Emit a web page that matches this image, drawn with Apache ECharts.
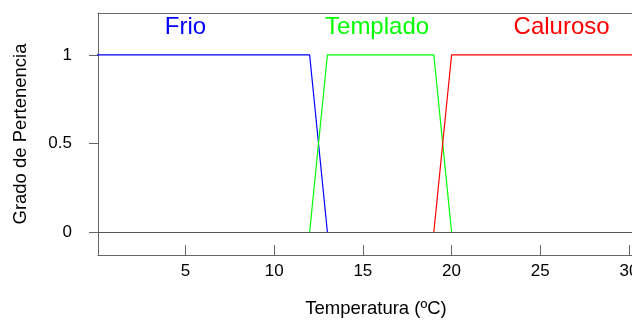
<!DOCTYPE html>
<html>
<head>
<meta charset="utf-8">
<script src="https://cdn.jsdelivr.net/npm/echarts@6/dist/echarts.min.js"></script>
<style>
  html, body { margin: 0; padding: 0; background: #ffffff; }
  #chart { width: 632px; height: 320px; }
</style>
</head>
<body>
<div id="chart"></div>
<script>
// membership functions, [temperature, degree]
const frioPoints = [[0, 1], [12, 1], [13, 0]];
const templadoPoints = [[12, 0], [13, 1], [19, 1], [20, 0]];
const calurosoPoints = [[19, 0], [20, 1], [32, 1]];

const xTicks = [5, 10, 15, 20, 25, 30];
const yTicks = [0, 0.5, 1];

const setNames = ['Frio', 'Templado', 'Caluroso'];
const setLabelX = [5, 15.8, 26.2];
const setLabelY = [1.155, 1.155, 1.155];
const setColors = ['#0000ff', '#00ff00', '#ff0000'];

const AXIS_COLOR = '#666666';
const FONT = 'Liberation Sans, Arial, sans-serif';

const chart = echarts.init(document.getElementById('chart'));

const lineSeries = (name, data, color) => ({
  name: name,
  type: 'line',
  data: data,
  symbol: 'none',
  lineStyle: { color: color, width: 1.2 },
  z: 3,
});

const option = {
  animation: false,
  grid: {
    left: 98,
    top: 13,
    bottom: 65,
    right: 0,
    outerBoundsMode: 'none',
    containLabel: false,
  },
  xAxis: [
    {
      type: 'value',
      min: 0.07,
      max: 30.17,
      name: 'Temperatura (ºC)',
      nameLocation: 'middle',
      nameGap: 44,
      nameTextStyle: {
        color: '#000',
        fontSize: 18.5,
        fontFamily: FONT,
        padding: [0, 0, 0, 22],
      },
      axisLine: { show: true, onZero: false, lineStyle: { color: AXIS_COLOR } },
      axisTick: {
        show: true,
        inside: true,
        length: 10,
        customValues: xTicks,
        lineStyle: { color: AXIS_COLOR },
      },
      axisLabel: {
        customValues: xTicks,
        color: '#000',
        fontSize: 17,
        fontFamily: FONT,
        margin: 8,
        hideOverlap: false,
      },
      splitLine: { show: false },
    },
    {
      // top border of the box
      type: 'value',
      position: 'top',
      min: 0.07,
      max: 30.17,
      axisLine: { show: true, onZero: false, lineStyle: { color: AXIS_COLOR } },
      axisTick: { show: false },
      axisLabel: { show: false },
      splitLine: { show: false },
    },
  ],
  yAxis: {
    type: 'value',
    min: -0.13,
    max: 1.237,
    name: 'Grado de Pertenencia',
    nameLocation: 'middle',
    nameGap: 68,
    nameTextStyle: { color: '#000', fontSize: 18.5, fontFamily: FONT },
    axisLine: { show: true, lineStyle: { color: AXIS_COLOR } },
    axisTick: {
      show: true,
      length: 9,
      customValues: yTicks,
      lineStyle: { color: AXIS_COLOR },
    },
    axisLabel: {
      customValues: yTicks,
      color: '#000',
      fontSize: 17,
      fontFamily: FONT,
      margin: 26,
      formatter: (v) => String(v),
    },
    splitLine: { show: false },
  },
  series: [
    lineSeries('Frio', frioPoints, setColors[0]),
    lineSeries('Templado', templadoPoints, setColors[1]),
    lineSeries('Caluroso', calurosoPoints, setColors[2]),
    {
      // horizontal reference line at 0
      type: 'line',
      data: [],
      markLine: {
        silent: true,
        symbol: 'none',
        label: { show: false },
        lineStyle: { color: '#555555', width: 1, type: 'solid' },
        data: [{ yAxis: 0 }],
      },
      z: 4,
    },
    {
      type: 'scatter',
      symbolSize: 0,
      silent: true,
      itemStyle: { opacity: 1 },
      data: setNames.map((n, i) => ({
        value: [setLabelX[i], setLabelY[i], n],
        label: { color: setColors[i] },
      })),
      label: {
        show: true,
        position: 'inside',
        fontSize: 24,
        fontFamily: FONT,
        textBorderWidth: 0,
        textBorderColor: 'transparent',
        formatter: (p) => p.value[2],
      },
    },
  ],
};

chart.setOption(option);
</script>
</body>
</html>
